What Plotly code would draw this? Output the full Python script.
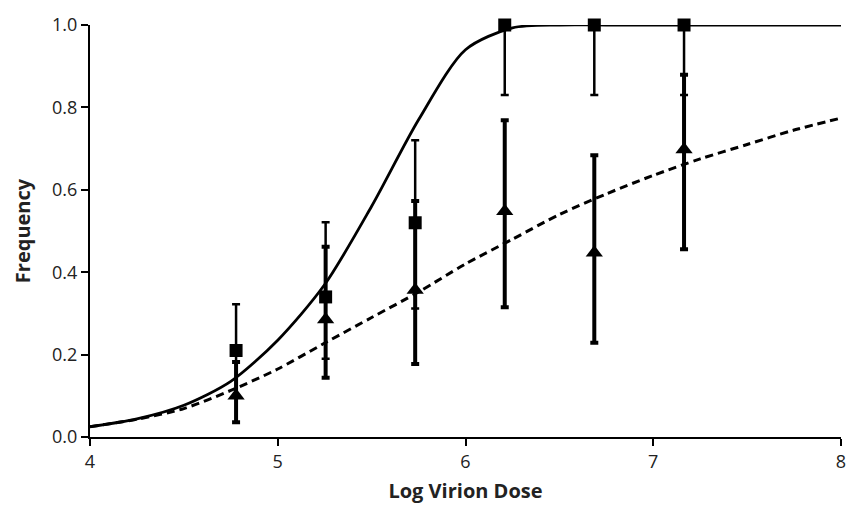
import plotly.graph_objects as go

# Observed data (log10 dose)
dose = [4.778, 5.255, 5.732, 6.209, 6.686, 7.164]

sq_y = [0.21, 0.34, 0.52, 1.0, 1.0, 1.0]
sq_hi = [0.322, 0.521, 0.72, 1.0, 1.0, 1.0]
sq_lo = [0.10, 0.19, 0.312, 0.83, 0.83, 0.83]

tri_y = [0.10, 0.285, 0.357, 0.548, 0.447, 0.698]
tri_hi = [0.182, 0.462, 0.573, 0.769, 0.684, 0.879]
tri_lo = [0.036, 0.144, 0.177, 0.315, 0.229, 0.456]

# Fitted curves
curve_x = [4.0, 4.25, 4.5, 4.75, 5.0, 5.25, 5.5, 5.75, 6.0, 6.25, 6.5, 6.75, 7.0, 7.25, 7.5, 7.75, 8.0]
solid_y = [0.025, 0.044, 0.077, 0.135, 0.235, 0.37, 0.56, 0.77, 0.94, 0.993, 1.0, 1.0, 1.0, 1.0, 1.0, 1.0, 1.0]
dashed_y = [0.025, 0.043, 0.069, 0.113, 0.165, 0.228, 0.29, 0.352, 0.42, 0.48, 0.54, 0.59, 0.635, 0.675, 0.71, 0.745, 0.774]

x_ticks = [4, 5, 6, 7, 8]
y_ticks = [0.0, 0.2, 0.4, 0.6, 0.8, 1.0]

fig = go.Figure()

fig.add_trace(go.Scatter(
    x=curve_x, y=dashed_y, mode="lines",
    line=dict(color="black", width=3, dash="8px,5px", shape="spline", smoothing=0.8),
    showlegend=False, hoverinfo="skip"))
fig.add_trace(go.Scatter(
    x=curve_x, y=solid_y, mode="lines",
    line=dict(color="black", width=2.8, shape="spline", smoothing=0.8),
    showlegend=False, hoverinfo="skip"))

fig.add_trace(go.Scatter(
    x=dose, y=tri_y, mode="markers",
    marker=dict(symbol="triangle-up", size=15, color="black"),
    error_y=dict(type="data", symmetric=False,
                 array=[h - y for h, y in zip(tri_hi, tri_y)],
                 arrayminus=[y - l for l, y in zip(tri_lo, tri_y)],
                 color="black", thickness=4, width=4),
    cliponaxis=False, showlegend=False))

fig.add_trace(go.Scatter(
    x=dose, y=sq_y, mode="markers",
    marker=dict(symbol="square", size=13, color="black"),
    error_y=dict(type="data", symmetric=False,
                 array=[h - y for h, y in zip(sq_hi, sq_y)],
                 arrayminus=[y - l for l, y in zip(sq_lo, sq_y)],
                 color="black", thickness=2.5, width=4),
    cliponaxis=False, showlegend=False))

fig.update_layout(
    width=846, height=509,
    margin=dict(l=90, r=5, t=25, b=72),
    paper_bgcolor="white", plot_bgcolor="white",
    font=dict(family="Open Sans, Liberation Sans, sans-serif", color="#222"),
    showlegend=False,
)
fig.update_xaxes(
    range=[4, 8], tickvals=x_ticks, ticktext=[str(v) for v in x_ticks],
    showgrid=False, zeroline=False, showline=True, linecolor="black", linewidth=2,
    ticks="outside", ticklen=7, tickwidth=2, tickcolor="black",
    tickfont=dict(size=18), ticklabeloverflow="allow", automargin=False,
    title=dict(text="<b>Log Virion Dose</b>", font=dict(size=20), standoff=12),
)
fig.update_yaxes(
    range=[0, 1], tickvals=y_ticks, ticktext=[f"{v:.1f}" for v in y_ticks],
    showgrid=False, zeroline=False, showline=True, linecolor="black", linewidth=2,
    ticks="outside", ticklen=7, tickwidth=2, tickcolor="black",
    tickfont=dict(size=18), automargin=False,
    title=dict(text="<b>Frequency</b>", font=dict(size=20), standoff=16),
)

fig.write_html("out.html")
